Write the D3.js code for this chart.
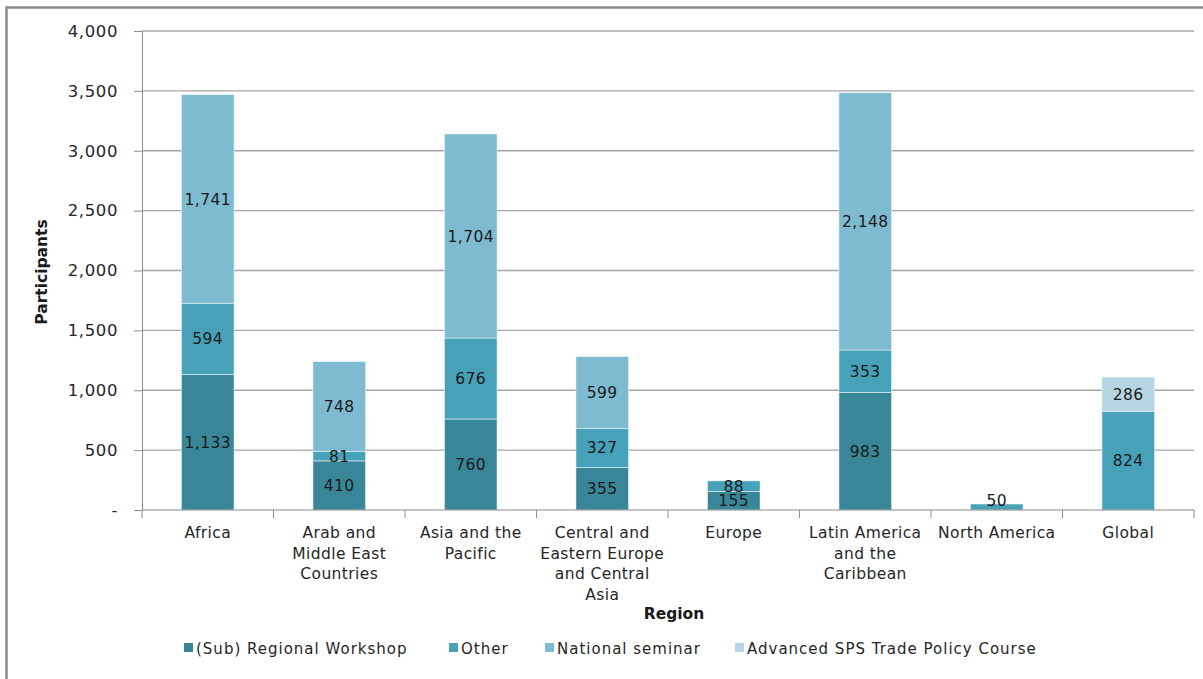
<!DOCTYPE html>
<html>
<head>
<meta charset="utf-8">
<script src="https://cdn.jsdelivr.net/npm/d3@7"></script>
<style>
  body { margin: 0; background: #fff; }
  svg { display: block; font-family: "DejaVu Sans", Verdana, sans-serif; }
  .grid line { stroke: #a6a6a6; stroke-width: 1.3; }
  .axis path, .axis line { stroke: #8c8c8c; }
  .axis text { fill: #262626; font-family: "DejaVu Sans", Verdana, sans-serif; font-size: 15.5px; letter-spacing: 0.4px; }
  .yaxis text { font-size: 16.5px; letter-spacing: 0.6px; }
  .vlabel { fill: #1a1a1a; font-size: 15.5px; letter-spacing: 0.4px; }
  .title { font-weight: bold; font-size: 15.5px; fill: #1a1a1a; }
  .legend text { font-size: 15px; fill: #262626; letter-spacing: 1px; }
</style>
</head>
<body>
<svg width="1203" height="679"></svg>
<script>
var regions = ["Africa", "Arab and Middle East Countries", "Asia and the Pacific",
  "Central and Eastern Europe and Central Asia", "Europe",
  "Latin America and the Caribbean", "North America", "Global"];
var regionLines = [["Africa"], ["Arab and", "Middle East", "Countries"], ["Asia and the", "Pacific"],
  ["Central and", "Eastern Europe", "and Central", "Asia"], ["Europe"],
  ["Latin America", "and the", "Caribbean"], ["North America"], ["Global"]];

var seriesNames = ["(Sub) Regional Workshop", "Other", "National seminar", "Advanced SPS Trade Policy Course"];
var regionalWorkshop = [1133, 410, 760, 355, 155, 983, 0, 0];
var other            = [594, 81, 676, 327, 88, 353, 50, 824];
var nationalSeminar  = [1741, 748, 1704, 599, 0, 2148, 0, 0];
var advancedCourse   = [0, 0, 0, 0, 0, 0, 0, 286];
var colors = ["#3a8699", "#46a1b9", "#7ebad0", "#b5d6e2"];

var yTicks = [0, 500, 1000, 1500, 2000, 2500, 3000, 3500, 4000];

var rows = regions.map(function(r, i) {
  return { region: r, s0: regionalWorkshop[i], s1: other[i], s2: nationalSeminar[i], s3: advancedCourse[i] };
});
var keys = ["s0", "s1", "s2", "s3"];
var stacked = d3.stack().keys(keys)(rows);

var svg = d3.select("svg");

// outer frame
svg.append("rect")
  .attr("x", 6.5).attr("y", 7.5).attr("width", 1210).attr("height", 700)
  .attr("fill", "none").attr("stroke", "#8a8a8a").attr("stroke-width", 2.5);

var plotLeft = 142, plotRight = 1194, plotTop = 31, plotBottom = 510;

var x = d3.scaleBand().domain(regions).range([plotLeft, plotRight]).paddingInner(0.6).paddingOuter(0.3);
var xb = d3.scaleBand().domain(regions).range([plotLeft, plotRight]);
var y = d3.scaleLinear().domain([0, 4000]).range([plotBottom, plotTop]);

var fmt = d3.format(",");

svg.append("g").attr("class", "grid")
  .selectAll("line").data(yTicks.slice(1)).enter().append("line")
  .attr("x1", plotLeft).attr("x2", plotRight)
  .attr("y1", function(d) { return y(d); }).attr("y2", function(d) { return y(d); });

// bars
var layer = svg.selectAll(".layer").data(stacked).enter().append("g")
  .attr("class", "layer")
  .attr("fill", function(d, i) { return colors[i]; });

layer.selectAll("rect").data(function(d) { return d.filter(function(p) { return p[1] - p[0] > 0; }); })
  .enter().append("rect")
  .attr("x", function(d) { return x(d.data.region); })
  .attr("width", x.bandwidth())
  .attr("y", function(d) { return y(d[1]); })
  .attr("height", function(d) { return y(d[0]) - y(d[1]); })
  .attr("stroke", "#e8f2f5").attr("stroke-width", 0.6);

// value labels (kept clear of the axis line)
stacked.forEach(function(s) {
  s.forEach(function(d) {
    var v = d[1] - d[0];
    if (v <= 0) return;
    var ly = Math.min(y((d[0] + d[1]) / 2), plotBottom - 10);
    svg.append("text").attr("class", "vlabel")
      .attr("x", x(d.data.region) + x.bandwidth() / 2)
      .attr("y", ly)
      .attr("dy", "0.36em")
      .attr("text-anchor", "middle")
      .text(fmt(v));
  });
});

// y axis
svg.append("g").attr("class", "axis yaxis")
  .attr("transform", "translate(" + plotLeft + ",0)")
  .call(d3.axisLeft(y).tickValues(yTicks).tickSize(8).tickPadding(16)
    .tickFormat(function(d) { return d === 0 ? "-" : fmt(d); }));

// x axis
var xAxis = svg.append("g").attr("class", "axis")
  .attr("transform", "translate(0," + plotBottom + ")");
xAxis.append("line").attr("x1", plotLeft).attr("x2", plotRight).attr("y1", 0).attr("y2", 0)
  .attr("stroke", "#8c8c8c");
xAxis.selectAll(".tk").data(regions.concat(["end"])).enter().append("line")
  .attr("x1", function(d, i) { return plotLeft + i * xb.bandwidth(); })
  .attr("x2", function(d, i) { return plotLeft + i * xb.bandwidth(); })
  .attr("y1", 0).attr("y2", 8).attr("stroke", "#8c8c8c");

var cat = svg.append("g").attr("class", "axis");
regions.forEach(function(r, i) {
  var t = cat.append("text")
    .attr("x", xb(r) + xb.bandwidth() / 2)
    .attr("y", 538)
    .attr("text-anchor", "middle");
  regionLines[i].forEach(function(line, j) {
    t.append("tspan").attr("x", xb(r) + xb.bandwidth() / 2)
      .attr("dy", j === 0 ? 0 : 20.7).text(line);
  });
});

// axis titles
svg.append("text").attr("class", "title")
  .attr("transform", "translate(47,272) rotate(-90)")
  .attr("text-anchor", "middle").text("Participants");
svg.append("text").attr("class", "title")
  .attr("x", 674).attr("y", 619)
  .attr("text-anchor", "middle").text("Region");

// legend
var legendX = [184, 449, 545, 735];
var legend = svg.append("g").attr("class", "legend");
seriesNames.forEach(function(n, i) {
  legend.append("rect").attr("x", legendX[i]).attr("y", 643)
    .attr("width", 9).attr("height", 9).attr("fill", colors[i]);
  legend.append("text").attr("x", legendX[i] + 12).attr("y", 653.5).text(n);
});
</script>
</body>
</html>
